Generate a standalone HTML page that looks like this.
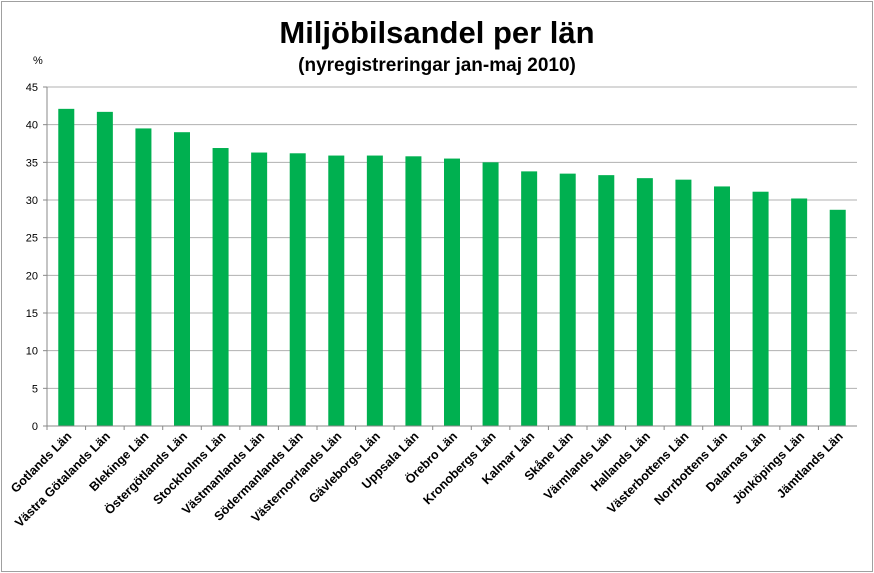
<!DOCTYPE html>
<html><head><meta charset="utf-8"><style>
body{margin:0;background:#fff}
svg{display:block;font-family:"Liberation Sans",Arial,sans-serif}
</style></head><body>
<svg width="874" height="573">
<rect x="1.5" y="1.5" width="871" height="570" fill="#fff" stroke="#a0a0a0"/>
<text x="437" y="43" text-anchor="middle" font-size="31" font-weight="bold">Miljöbilsandel per län</text>
<text x="437" y="71" text-anchor="middle" font-size="19" font-weight="bold">(nyregistreringar jan-maj 2010)</text>
<text x="33" y="64" font-size="11">%</text>
<g id="grid"></g><g id="bars"></g><g id="axes"></g>
</svg>
<script>
const categories=["Gotlands Län","Västra Götalands Län","Blekinge Län","Östergötlands Län","Stockholms Län","Västmanlands Län","Södermanlands Län","Västernorrlands Län","Gävleborgs Län","Uppsala Län","Örebro Län","Kronobergs Län","Kalmar Län","Skåne Län","Värmlands Län","Hallands Län","Västerbottens Län","Norrbottens Län","Dalarnas Län","Jönköpings Län","Jämtlands Län"];
const values=[42.1,41.7,39.5,39.0,36.9,36.3,36.2,35.9,35.9,35.8,35.5,35.0,33.8,33.5,33.3,32.9,32.7,31.8,31.1,30.2,28.7];
const yTicks=[0,5,10,15,20,25,30,35,40,45];
const NS="http://www.w3.org/2000/svg";
const x0=47,x1=857,yTop=87,yBot=426,yMax=45;
const band=(x1-x0)/categories.length;
const y=v=>yBot-(v/yMax)*(yBot-yTop);
const xc=i=>x0+band*(i+0.5);
function mk(t,a,p){const e=document.createElementNS(NS,t);for(const k in a)e.setAttribute(k,a[k]);p.appendChild(e);return e;}
const grid=document.getElementById('grid'),bars=document.getElementById('bars'),axes=document.getElementById('axes');
yTicks.forEach(t=>{
 if(t>0){const l=mk('line',{x1:x0,x2:x1,y1:y(t),y2:y(t),stroke:'#b0b0b0','stroke-width':1},grid);
 
 }
 const tk=mk('line',{x1:x0-4,x2:x0,y1:y(t),y2:y(t),stroke:'#888'},axes);
 
 
 const tx=mk('text',{x:x0-9,y:y(t)+4,'text-anchor':'end','font-size':11},axes);
 tx.textContent=t;
 
 
});
values.forEach((v,i)=>{
 const r=mk('rect',{x:xc(i)-8,y:y(v),width:16,height:yBot-y(v),fill:'#00b050'},bars);
 
 
});
const ya=mk('line',{x1:x0,x2:x0,y1:yTop,y2:yBot,stroke:'#888'},axes);


const xa=mk('line',{x1:x0,x2:x1,y1:yBot,y2:yBot,stroke:'#888'},axes);


categories.forEach((c,i)=>{
 const tk=mk('line',{x1:x0+band*i,x2:x0+band*i,y1:yBot,y2:yBot+4,stroke:'#888'},axes);
 
 
 const cx=xc(i)+6,cy=yBot+11;
 const t=mk('text',{x:cx,y:cy,'text-anchor':'end','font-size':12.5,'font-weight':'bold',transform:`rotate(-45 ${cx} ${cy})`},axes);
 t.textContent=c;
 
 
});
</script>
</body></html>
